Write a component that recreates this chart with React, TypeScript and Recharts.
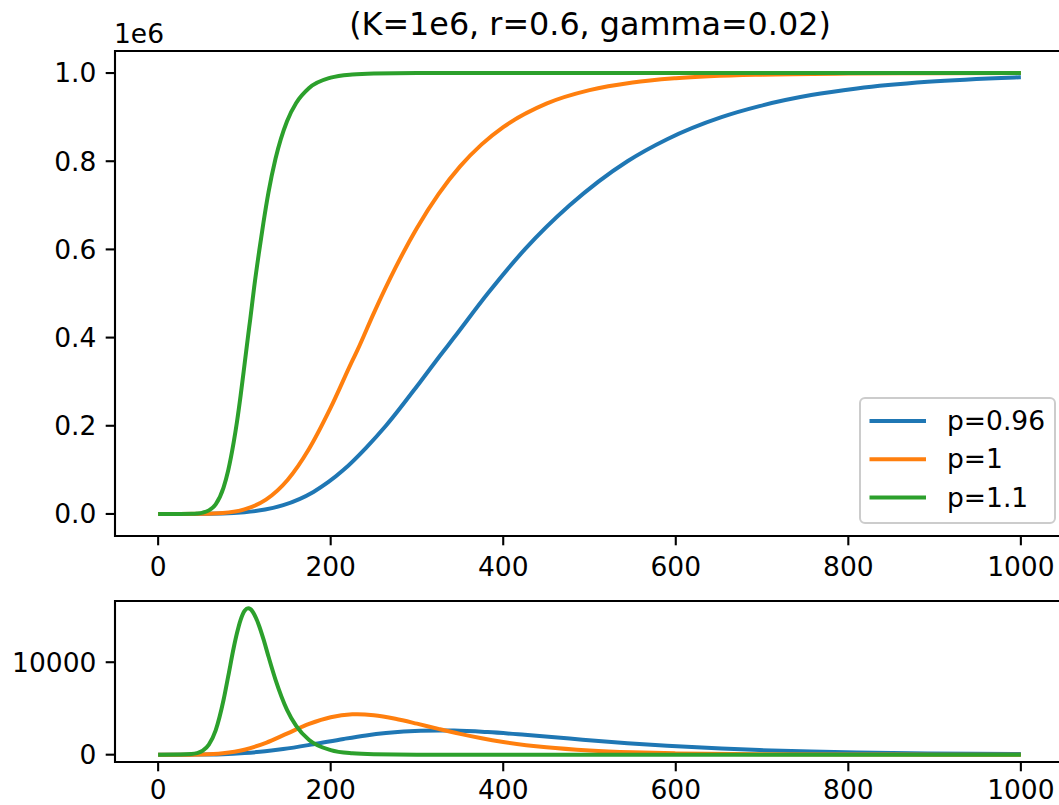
import React from 'react';
import { LineChart, Line, XAxis, YAxis, ReferenceArea, Legend } from 'recharts';

const FONT = '"DejaVu Sans", Verdana, sans-serif';
const TITLE = '(K=1e6, r=0.6, gamma=0.02)';
const OFFSET_TEXT = '1e6';
const SERIES_NAMES = ['p=0.96', 'p=1', 'p=1.1'];
const COLORS = ['#1f77b4', '#ff7f0e', '#2ca02c'];
const X_TICKS = [0, 200, 400, 600, 800, 1000];
const TOP_Y_TICKS = [0, 200000, 400000, 600000, 800000, 1000000];
const BOTTOM_Y_TICKS = [0, 10000];

// p = 0.96
const daysP096 = [0, 42, 75, 100, 124, 145, 180, 215, 241, 264, 304, 326, 343, 382, 425, 477, 544, 590, 653, 697, 757, 810, 892, 993, 1000];
const totalP096 = [0, 100, 1000, 4000, 10000, 20000, 50000, 100000, 150000, 200000, 300000, 357000, 400000, 500000, 600000, 700000, 800000, 850000, 900000, 925000, 950000, 965000, 980000, 990000, 990500];
const dailyP096 = [0, 8, 59, 180, 365, 608, 1132, 1704, 2080, 2333, 2586, 2619, 2608, 2443, 2149, 1743, 1241, 959, 657, 499, 337, 237, 137, 69, 66];

// p = 1
const daysP1 = [0, 25, 50, 75, 100, 125, 150, 175, 200, 225, 231, 250, 275, 300, 325, 350, 375, 400, 450, 500, 550, 600, 700, 800, 900, 1000];
const totalP1 = [0, 25, 320, 2280, 10300, 32400, 77000, 147800, 241000, 347100, 371500, 455600, 558000, 648600, 725400, 788200, 838200, 877400, 930700, 961300, 978600, 988200, 996400, 998900, 999700, 999900];
const dailyP1 = [0, 3, 29, 157, 540, 1289, 2309, 3326, 4057, 4361, 4371, 4264, 3884, 3355, 2786, 2246, 1772, 1375, 801, 455, 254, 141, 43, 13, 4, 1];

// p = 1.1
const daysP11 = [0, 26, 38.6, 45, 51.7, 58.8, 66.7, 75.8, 81.2, 87.6, 91.4, 95.6, 100.5, 104.4, 106.8, 111.3, 117.2, 122, 127.9, 136.1, 149.4, 160, 175, 200, 225, 250, 300, 400, 1000];
const totalP11 = [0, 55, 400, 1100, 3000, 8100, 22000, 59900, 98700, 162800, 209000, 268400, 344600, 406000, 442400, 514400, 597200, 660000, 729400, 806100, 890900, 932000, 966000, 989500, 996800, 999000, 999900, 1000000, 1000000];
const dailyP11 = [0, 9, 64, 169, 437, 1098, 2639, 5909, 8464, 11562, 13154, 14592, 15605, 15830, 15761, 15198, 13895, 12517, 10617, 8102, 4853, 3115, 1589, 498, 153, 47, 4, 0, 0];

const zip = (days: number[], vals: number[]) => days.map((t, i) => ({ t, v: vals[i] }));

const TOTALS = [zip(daysP096, totalP096), zip(daysP1, totalP1), zip(daysP11, totalP11)];
const DAILY = [zip(daysP096, dailyP096), zip(daysP1, dailyP1), zip(daysP11, dailyP11)];

const TICK_STYLE = { fill: '#000', fontSize: 26.5, fontFamily: FONT };
const TICK_LINE = { stroke: '#000', strokeWidth: 2.1 };

const renderLegend = () => (
  <svg width={197} height={127} style={{ display: 'block' }}>
    <rect x={1} y={1} width={195} height={125} rx={5} fill="#fff" fillOpacity={0.8} stroke="#cccccc" strokeWidth={2} />
    {SERIES_NAMES.map((name, i) => (
      <g key={name}>
        <line x1={10.5} x2={67} y1={24 + 38.3 * i} y2={24 + 38.3 * i} stroke={COLORS[i]} strokeWidth={4} />
        <text x={88} y={33 + 38.3 * i} fontSize={26.5} fontFamily={FONT} fill="#000">{name}</text>
      </g>
    ))}
  </svg>
);

export default function App() {
  return (
    <div style={{ position: 'absolute', left: 0, top: 0, width: 1059, height: 805, overflow: 'hidden', background: '#fff' }}>
      <div style={{ position: 'absolute', left: 0, top: 0 }}>
        <LineChart width={1070} height={590} margin={{ top: 51, right: 6, bottom: 0, left: 0 }}>
          <XAxis
            type="number"
            dataKey="t"
            domain={[-50, 1050]}
            ticks={X_TICKS}
            interval={0}
            allowDataOverflow
            axisLine={false}
            tickLine={TICK_LINE}
            tickSize={9.3}
            tickMargin={12}
            height={54}
            tick={TICK_STYLE}
          />
          <YAxis
            type="number"
            domain={[-50000, 1050000]}
            ticks={TOP_Y_TICKS}
            interval={0}
            allowDataOverflow
            axisLine={false}
            tickLine={TICK_LINE}
            tickSize={9.3}
            tickMargin={9.3}
            width={115}
            tick={TICK_STYLE}
            tickFormatter={(v: number) => (v / 1e6).toFixed(1)}
          />
          {TOTALS.map((d, i) => (
            <Line
              key={SERIES_NAMES[i]}
              data={d}
              dataKey="v"
              name={SERIES_NAMES[i]}
              type="monotone"
              stroke={COLORS[i]}
              strokeWidth={4}
              dot={false}
              activeDot={false}
              isAnimationActive={false}
            />
          ))}
          <ReferenceArea x1={-50} x2={1050} y1={-50000} y2={1050000} fill="none" fillOpacity={0} stroke="#000" strokeWidth={2.1} ifOverflow="visible" />
          <Legend
            layout="vertical"
            align="center"
            verticalAlign="middle"
            content={renderLegend}
            wrapperStyle={{ left: 859, top: 397, width: 197, height: 127, margin: 0, padding: 0 }}
          />
        </LineChart>
      </div>
      <div style={{ position: 'absolute', left: 0, top: 590 }}>
        <LineChart width={1070} height={235} margin={{ top: 11, right: 6, bottom: 20, left: 0 }}>
          <XAxis
            type="number"
            dataKey="t"
            domain={[-50, 1050]}
            ticks={X_TICKS}
            interval={0}
            allowDataOverflow
            axisLine={false}
            tickLine={TICK_LINE}
            tickSize={9.3}
            tickMargin={8.5}
            height={43}
            tick={TICK_STYLE}
          />
          <YAxis
            type="number"
            domain={[-791, 16621]}
            ticks={BOTTOM_Y_TICKS}
            interval={0}
            allowDataOverflow
            axisLine={false}
            tickLine={TICK_LINE}
            tickSize={9.3}
            tickMargin={9.3}
            width={115}
            tick={TICK_STYLE}
          />
          {DAILY.map((d, i) => (
            <Line
              key={SERIES_NAMES[i]}
              data={d}
              dataKey="v"
              name={SERIES_NAMES[i]}
              type="monotone"
              stroke={COLORS[i]}
              strokeWidth={4}
              dot={false}
              activeDot={false}
              isAnimationActive={false}
            />
          ))}
          <ReferenceArea x1={-50} x2={1050} y1={-791} y2={16621} fill="none" fillOpacity={0} stroke="#000" strokeWidth={2.1} ifOverflow="visible" />
        </LineChart>
      </div>
      <svg width={1059} height={60} style={{ position: 'absolute', left: 0, top: 0 }}>
        <text x={590} y={35} textAnchor="middle" fontSize={31.8} fontFamily={FONT} fill="#000">{TITLE}</text>
        <text x={114} y={43} textAnchor="start" fontSize={26.5} fontFamily={FONT} fill="#000">{OFFSET_TEXT}</text>
      </svg>
    </div>
  );
}
